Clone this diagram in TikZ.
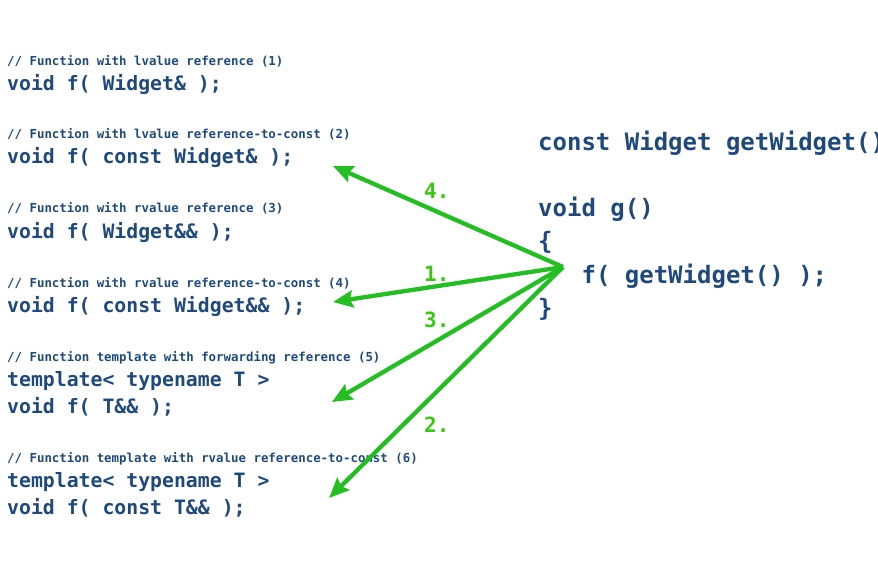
\documentclass[tikz,border=0pt]{standalone}
\usepackage{fontspec}
\setmonofont{DejaVu Sans Mono}
\usetikzlibrary{arrows.meta}
\definecolor{codeblue}{RGB}{31,73,125}
\definecolor{arrowgreen}{RGB}{34,190,34}
\definecolor{numgreen}{RGB}{56,200,16}

\begin{document}
\begin{tikzpicture}[x=1pt,y=-1pt,
        cmt/.style={anchor=base west,inner sep=0pt,text=codeblue,font=\ttfamily\bfseries\fontsize{12.4}{14}\selectfont},
        decl/.style={anchor=base west,inner sep=0pt,text=codeblue,font=\ttfamily\bfseries\fontsize{19.8}{24}\selectfont},
        body/.style={anchor=base west,inner sep=0pt,text=codeblue,font=\ttfamily\bfseries\fontsize{24}{28}\selectfont},
        num/.style={anchor=base west,inner sep=0pt,text=numgreen,font=\ttfamily\bfseries\fontsize{21}{24}\selectfont},
        call/.style={-{Stealth[length=20pt,width=17pt,inset=3pt]},line width=4.3pt,arrowgreen}]
        \useasboundingbox(0,0)rectangle(878,575);

        \node[cmt](c1)at(7,66){// Function with lvalue reference (1)};
        \node[decl](f1)at(7,91){void f( Widget\& );};
        \node[cmt](c2)at(7,139){// Function with lvalue reference-to-const (2)};
        \node[decl](f2)at(7,164){void f( const Widget\& );};
        \node[cmt](c3)at(7,212){// Function with rvalue reference (3)};
        \node[decl](f3)at(7,238){void f( Widget\&\& );};
        \node[cmt](c4)at(7,287){// Function with rvalue reference-to-const (4)};
        \node[decl](f4)at(7,312){void f( const Widget\&\& );};
        \node[cmt](c5)at(7,361){// Function template with forwarding reference (5)};
        \node[decl](t5)at(7,386){template< typename T >};
        \node[decl](f5)at(7,413){void f( T\&\& );};
        \node[cmt](c6)at(7,462){// Function template with rvalue reference-to-const (6)};
        \node[decl](t6)at(7,487){template< typename T >};
        \node[decl](f6)at(7,514){void f( const T\&\& );};

        \node[body](get)at(538,150){const Widget getWidget()};
        \node[body](g)at(538,216){void g()};
        \node[body](open)at(538,249){\{};
        \node[body](fcall)at(538,283){\ \ \ f( getWidget() );};
        \node[body](close)at(538,316){\}};

        \coordinate(src)at(563,267);
        \coordinate(to1)at(333,302);
        \coordinate(to2)at(329,498);
        \coordinate(to3)at(332,402);
        \coordinate(to4)at(333,166);

        \draw[call](src)--(to4);
        \draw[call](src)--(to1);
        \draw[call](src)--(to3);
        \draw[call](src)--(to2);

        \node[num](n4)at(424,198){4.};
        \node[num](n1)at(424,281){1.};
        \node[num](n3)at(424,327){3.};
        \node[num](n2)at(424,432){2.};
\end{tikzpicture}
\end{document}
